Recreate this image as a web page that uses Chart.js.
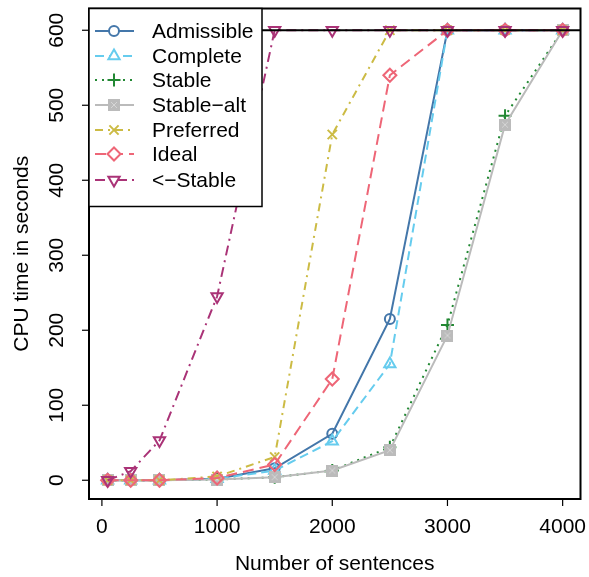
<!DOCTYPE html>
<html><head><meta charset="utf-8">
<script src="https://cdn.jsdelivr.net/npm/chart.js@4.4.1/dist/chart.umd.min.js"></script>
<style>html,body{margin:0;padding:0;background:#fff;}</style>
</head><body>
<canvas id="c" width="589" height="577" style="width:589px;height:577px;display:block"></canvas>
<script>
// ---- data ----
const sentences   = [50, 250, 500, 1000, 1500, 2000, 2500, 3000, 3500, 4000];
const admissible  = [0, 0, 0, 2, 16, 62, 215, 600, 600, 600];
const complete    = [0, 0, 0, 2, 13, 52, 155, 600, 600, 600];
const stable      = [0, 0, 0, 1, 4, 13, 44, 207, 486, 600];
const stableAlt   = [0, 0, 0, 1, 4, 13, 40, 193, 474, 600];
const preferred   = [0, 0, 0, 5, 31, 461, 600, 600, 600, 600];
const ideal       = [0, 0, 0, 3, 21, 135, 540, 600, 600, 600];
const leftStable  = [0, 12, 53, 245, 600, 600, 600, 600, 600, 600];
const seriesNames = ["Admissible", "Complete", "Stable", "Stable\u2212alt", "Preferred", "Ideal", "<\u2212Stable"];
const xTicks = [0, 1000, 2000, 3000, 4000];
const yTicks = [0, 100, 200, 300, 400, 500, 600];
const timeoutLine = 600;

const FONT = '21px "Liberation Sans", Arial, Helvetica, sans-serif';

// square-with-x marker for Stable-alt
const sq = document.createElement('canvas');
sq.width = 12; sq.height = 12;
(function(){
  const g = sq.getContext('2d');
  g.fillStyle = '#bbbbbb'; g.fillRect(0,0,12,12);
  g.strokeStyle = '#d6d6d6'; g.lineWidth = 1;
  g.beginPath(); g.moveTo(3,3); g.lineTo(9,9); g.moveTo(9,3); g.lineTo(3,9); g.stroke();
})();

const styles = [
  {color:'#4477AA', dash:[],           pointStyle:'circle',   radius:5, rotation:0},
  {color:'#66CCEE', dash:[9,5],        pointStyle:'triangle', radius:6.5, rotation:0},
  {color:'#228833', dash:[2,5],        pointStyle:'cross',    radius:6.5, rotation:0},
  {color:'#BBBBBB', dash:[],           pointStyle:sq,         radius:6, rotation:0},
  {color:'#CCBB44', dash:[8,5,2,5],    pointStyle:'crossRot', radius:6.5, rotation:0},
  {color:'#EE6677', dash:[11,6],       pointStyle:'rectRot',  radius:6.5, rotation:0},
  {color:'#AA3377', dash:[10,5,2,5],   pointStyle:'triangle', radius:6.5, rotation:180},
];
const allSeries = [admissible, complete, stable, stableAlt, preferred, ideal, leftStable];

const datasets = allSeries.map((vals, i) => ({
  label: seriesNames[i],
  data: sentences.map((x, k) => ({x: x, y: vals[k]})),
  borderColor: styles[i].color,
  backgroundColor: 'rgba(0,0,0,0)',
  borderWidth: 2,
  borderDash: styles[i].dash,
  borderCapStyle: 'butt',
  tension: 0,
  pointStyle: styles[i].pointStyle,
  pointRadius: styles[i].radius,
  pointRotation: styles[i].rotation,
  pointBorderColor: styles[i].color,
  pointBackgroundColor: 'rgba(0,0,0,0)',
  pointBorderWidth: 2,
  order: -i
}));

const decor = {
  id: 'decor',
  beforeDraw(chart) {
    const ctx = chart.ctx;
    ctx.save(); ctx.fillStyle = '#fff'; ctx.fillRect(0,0,chart.width,chart.height); ctx.restore();
  },
  afterDatasetsDraw(chart) {
    const ctx = chart.ctx, a = chart.chartArea, xs = chart.scales.x, ys = chart.scales.y;
    ctx.save();
    // horizontal timeout line
    const y6 = ys.getPixelForValue(timeoutLine);
    ctx.strokeStyle = '#000'; ctx.lineWidth = 2; ctx.setLineDash([]);
    ctx.beginPath(); ctx.moveTo(a.left, y6); ctx.lineTo(a.right, y6); ctx.stroke();
    // box
    ctx.lineWidth = 2;
    ctx.strokeRect(a.left, a.top, a.right - a.left, a.bottom - a.top);
    // ticks
    ctx.lineWidth = 1.2;
    ctx.fillStyle = '#000';
    ctx.font = FONT;
    ctx.textAlign = 'center'; ctx.textBaseline = 'middle';
    xTicks.forEach(v => {
      const px = xs.getPixelForValue(v);
      ctx.beginPath(); ctx.moveTo(px, a.bottom); ctx.lineTo(px, a.bottom + 7); ctx.stroke();
      ctx.fillText(String(v), px, 527);
    });
    yTicks.forEach(v => {
      const py = ys.getPixelForValue(v);
      ctx.beginPath(); ctx.moveTo(a.left, py); ctx.lineTo(a.left - 7, py); ctx.stroke();
      ctx.save(); ctx.translate(57, py); ctx.rotate(-Math.PI/2); ctx.fillText(String(v), 0, 0); ctx.restore();
    });
    // axis titles
    ctx.fillText('Number of sentences', (a.left + a.right)/2, 564);
    ctx.save(); ctx.translate(22, (a.top + a.bottom)/2); ctx.rotate(-Math.PI/2);
    ctx.fillText('CPU time in seconds', 0, 0); ctx.restore();

    // legend
    const lx = a.left, ly = a.top, lw = 173, lh = 198;
    ctx.fillStyle = '#fff'; ctx.fillRect(lx, ly, lw, lh);
    ctx.strokeStyle = '#000'; ctx.lineWidth = 1.5; ctx.strokeRect(lx, ly, lw, lh);
    const rowY = [31, 56, 80, 105, 130, 154, 180];
    chart.data.datasets.forEach((ds, i) => {
      const y = rowY[i];
      ctx.strokeStyle = ds.borderColor; ctx.lineWidth = 2; ctx.setLineDash(ds.borderDash);
      ctx.beginPath(); ctx.moveTo(95, y); ctx.lineTo(134, y); ctx.stroke();
      ctx.setLineDash([]);
      ctx.fillStyle = '#fff';
      ctx.strokeStyle = ds.borderColor;
      Chart.helpers.drawPoint(ctx, {pointStyle: ds.pointStyle, rotation: ds.pointRotation, radius: ds.pointRadius, borderWidth: 2}, 114, y);
      ctx.fillStyle = '#000'; ctx.font = FONT; ctx.textAlign = 'left'; ctx.textBaseline = 'middle';
      ctx.fillText(ds.label, 152, y + 1);
    });
    ctx.restore();
  }
};

new Chart(document.getElementById('c'), {
  type: 'line',
  data: { datasets },
  options: {
    responsive: false,
    animation: false,
    devicePixelRatio: 1,
    layout: { padding: { left: 89, right: 6, top: 5, bottom: 78 } },
    scales: {
      x: { type: 'linear', min: -112, max: 4155, display: false },
      y: { type: 'linear', min: -25, max: 629, display: false }
    },
    plugins: { legend: { display: false }, tooltip: { enabled: false } },
    elements: { line: { fill: false } }
  },
  plugins: [decor]
});
</script>
</body></html>
